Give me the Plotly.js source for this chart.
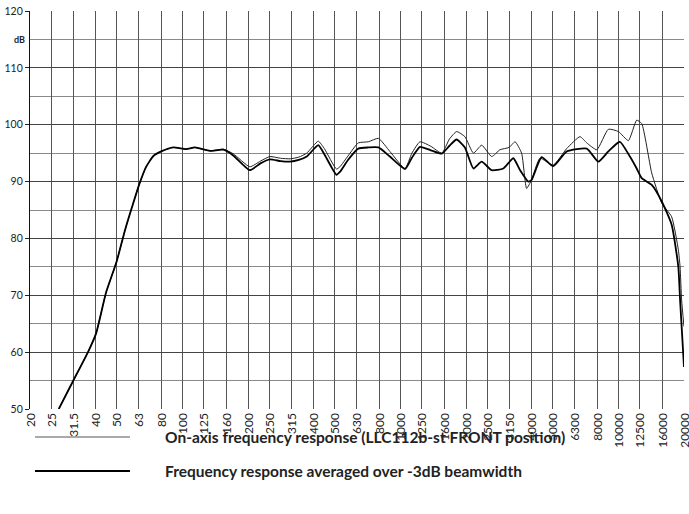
<!DOCTYPE html>
<html>
<head>
<meta charset="utf-8">
<script src="https://cdn.plot.ly/plotly-3.0.1.min.js"></script>
<style>
html,body{margin:0;padding:0;background:#fff;}
#wrap{position:relative;width:689px;height:514px;}
#chart{position:absolute;left:0;top:0;width:689px;height:514px;}
#xlabels{position:absolute;left:0;top:0;pointer-events:none;}
</style>
</head>
<body>
<div id="wrap"><div id="chart"></div><svg id="xlabels" width="689" height="514" xmlns="http://www.w3.org/2000/svg"></svg></div>
<script>
// 1/3-octave band labels (Hz)
const bandLabels = ['20','25','31.5','40','50','63','80','100','125','160','200','250','315','400','500','630','800','1000','1250','1600','2000','2500','3150','4000','5000','6300','8000','10000','12500','16000','20000'];
const bandFreqs = [20,25,31.5,40,50,63,80,100,125,160,200,250,315,400,500,630,800,1000,1250,1600,2000,2500,3150,4000,5000,6300,8000,10000,12500,16000,20000];

// On-axis frequency response (thin line)
const onAxisFreq = [27.1,31.7,37.0,40.2,44.6,49.9,54.6,59.3,63.4,68,73.6,80,90.8,104,114,134,154,171,204,228,252,282,312,342,372,420,448,509,528,575,641,713,793,895,1050,1130,1230,1380,1549,1680,1811,1977,2163,2360,2624,2864,3150,3358,3598,3794,4000,4366,5024,5794,6668,7162,7962,8996,10000,11118,12134,12794,14223,15814,17558,18838,19188,19500,20000];
const onAxisDb = [50,55.1,60.1,63.3,70.4,75.9,81.5,86.0,89.5,92.5,94.5,95.3,96.0,95.7,96.0,95.4,95.7,94.9,92.6,93.6,94.4,94.1,94.0,94.3,95.0,97.1,95.8,92.2,92.6,94.5,96.8,97.0,97.6,95.3,92.3,95.0,97.0,96.2,95.0,97.5,98.8,97.9,95.0,96.4,94.4,95.6,96.0,97.0,95.0,88.8,90.3,94.1,92.9,95.8,97.9,96.8,95.6,99.2,98.8,97.2,100.8,100.2,91.5,86.2,83.8,78.0,75.0,69.2,64.5];

// Frequency response averaged over -3dB beamwidth (thick line)
const avgFreq = [27.1,31.7,37.0,40.2,44.6,49.9,54.6,59.3,63.4,68,73.6,80,90.8,104,114,134,154,171,204,228,252,282,312,342,372,420,448,509,528,575,641,713,793,895,1050,1130,1230,1380,1549,1680,1811,1977,2163,2360,2624,2966,3296,3540,3864,4000,4446,5024,5794,7162,8091,8996,10163,11298,12134,12794,14223,15814,17558,18838,19188,20000];
const avgDb = [50,55.1,60.1,63.3,70.4,75.9,81.5,86.0,89.5,92.5,94.5,95.3,96.0,95.7,96.0,95.4,95.6,94.6,92.0,93.2,93.9,93.6,93.5,93.8,94.4,96.4,94.8,91.2,91.7,93.8,95.8,96.0,96.0,94.4,92.2,94.2,96.1,95.5,94.9,96.3,97.4,96.0,92.3,93.5,92.0,92.3,94.1,92.0,90.0,90.3,94.3,92.7,95.3,95.8,93.5,95.3,97.0,94.4,92.3,90.6,89.4,86.5,82.4,75.0,69.2,57.4];

const yTickVals = [50,60,70,80,90,100,110,120];
const legendLabels = ['On-axis frequency response (LLC112b-st FRONT position)','Frequency response averaged over -3dB beamwidth'];

const TICKFONT = 'Lato';
const LEGFONT = 'Lato';

const traces = [
  {x: onAxisFreq, y: onAxisDb, type: 'scatter', mode: 'lines', name: legendLabels[0],
   line: {color: '#222', width: 1, shape: 'spline', smoothing: 0.5}, hoverinfo: 'x+y'},
  {x: avgFreq, y: avgDb, type: 'scatter', mode: 'lines', name: legendLabels[1],
   line: {color: '#000', width: 1.8, shape: 'spline', smoothing: 0.5}, hoverinfo: 'x+y'}
];

const L = 30, R = 684, T = 11, B = 409;
const W = R - L, H = B - T;
function px(x){ return (x - L) / W; }
function py(y){ return (B - y) / H; }

const layout = {
  width: 689, height: 514,
  margin: {l: L, r: 689 - R, t: T, b: 514 - B, autoexpand: false},
  paper_bgcolor: '#fff', plot_bgcolor: '#fff',
  showlegend: false,
  font: {color: '#222', size: 11},
  xaxis: {
    type: 'log',
    range: [Math.log10(20), Math.log10(20000)],
    tickvals: bandFreqs, ticktext: bandLabels, showticklabels: false,
    ticks: '', showgrid: true, gridcolor: '#555', gridwidth: 1.2,
    zeroline: false, showline: false
  },
  yaxis: {
    range: [50, 120],
    tickvals: yTickVals, ticktext: yTickVals.map(String),
    tickfont: {size: 10.5, family: TICKFONT, color: '#222'},
    ticks: 'outside', ticklen: 4, tickcolor: '#222', tickwidth: 1,
    showgrid: true, gridcolor: '#444', gridwidth: 1.3,
    minor: {dtick: 5, tick0: 50, showgrid: true, gridcolor: '#8a8a8a', gridwidth: 1.4, ticks: ''},
    showline: true, linecolor: '#111', linewidth: 1.3, mirror: false,
    zeroline: false
  },
  shapes: [
    {type: 'line', xref: 'paper', yref: 'paper', x0: px(35), x1: px(130), y0: py(437), y1: py(437), line: {color: '#555', width: 1}},
    {type: 'line', xref: 'paper', yref: 'paper', x0: px(35), x1: px(130), y0: py(471), y1: py(471), line: {color: '#000', width: 2}}
  ],
  annotations: [
    {xref: 'paper', yref: 'y', x: px(27), y: 115, text: '<b>dB</b>', showarrow: false, xanchor: 'right', yanchor: 'middle', font: {size: 9, family: TICKFONT, color: '#222'}},
    {xref: 'paper', yref: 'paper', x: px(163), y: py(437), text: '<b>' + legendLabels[0] + '</b>', showarrow: false, xanchor: 'left', yanchor: 'middle', font: {size: 15.5, family: LEGFONT, color: '#222'}},
    {xref: 'paper', yref: 'paper', x: px(163), y: py(471), text: '<b>' + legendLabels[1] + '</b>', showarrow: false, xanchor: 'left', yanchor: 'middle', font: {size: 15.5, family: LEGFONT, color: '#222'}}
  ]
};

Plotly.newPlot('chart', traces, layout, {displayModeBar: false}).then(function(gd){
  // vertical x tick labels (reading bottom to top), placed through the plot's own log x axis
  const xa = gd._fullLayout.xaxis;
  const ya = gd._fullLayout.yaxis;
  const top = ya._offset + ya._length + 4;
  const svg = document.getElementById('xlabels');
  const NS = 'http://www.w3.org/2000/svg';
  bandFreqs.forEach(function(f, i){
    const cx = xa._offset + xa.c2p(f);
    const t = document.createElementNS(NS, 'text');
    t.setAttribute('x', cx);
    t.setAttribute('y', top);
    t.setAttribute('text-anchor', 'end');
    t.setAttribute('dominant-baseline', 'central');
    t.setAttribute('transform', 'rotate(-90 ' + cx + ' ' + top + ')');
    t.setAttribute('font-family', 'Lato, sans-serif');
    t.setAttribute('font-size', '12');
    t.setAttribute('fill', '#222');
    t.textContent = bandLabels[i];
    svg.appendChild(t);
  });
});
</script>
</body>
</html>
